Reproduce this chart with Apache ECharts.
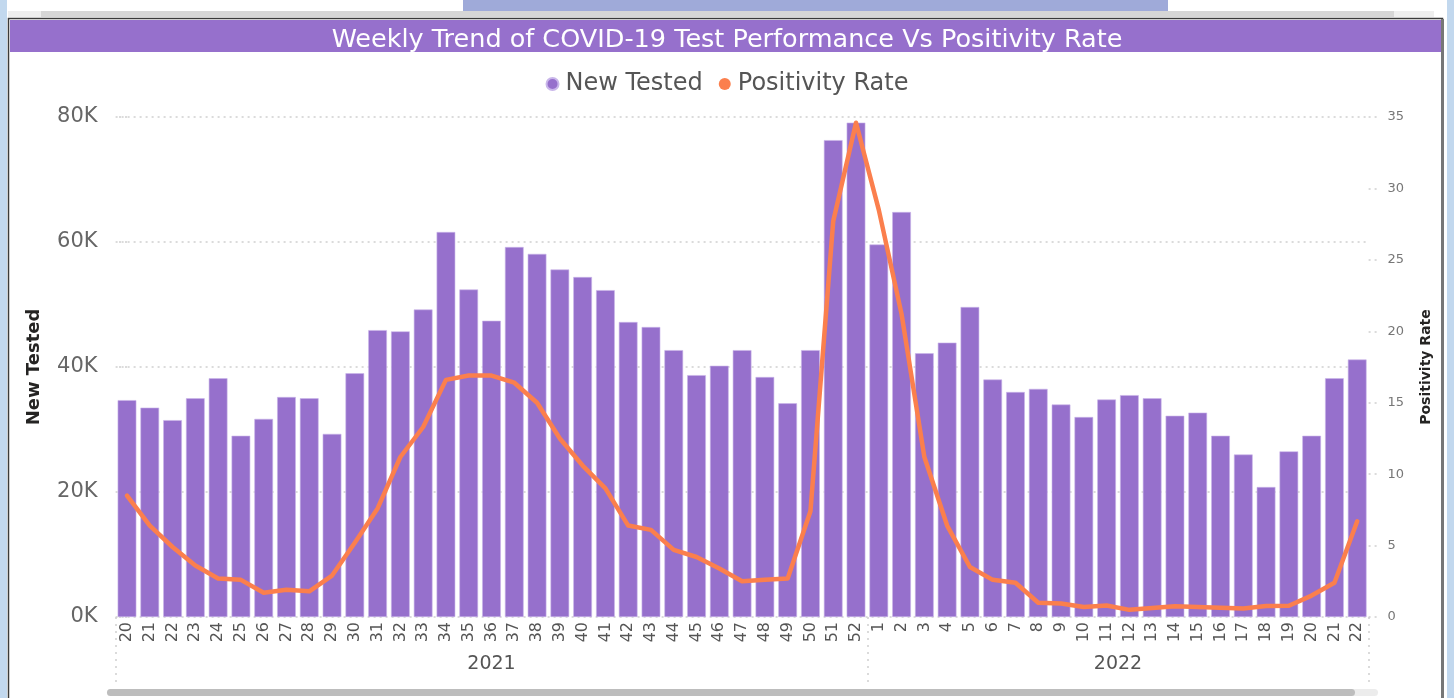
<!DOCTYPE html>
<html>
<head>
<meta charset="utf-8">
<script src="https://cdn.jsdelivr.net/npm/echarts@6/dist/echarts.min.js"></script>
<style>
html,body{margin:0;padding:0;background:#fff;}
#chart{width:1454px;height:698px;}
</style>
</head>
<body>
<div id="chart"></div>
<script>
const titleText = 'Weekly Trend of COVID-19 Test Performance Vs Positivity Rate';
const seriesNames = ['New Tested', 'Positivity Rate'];
const weeks = ['20','21','22','23','24','25','26','27','28','29','30','31','32','33','34','35','36','37','38','39','40','41','42','43','44','45','46','47','48','49','50','51','52',
               '1','2','3','4','5','6','7','8','9','10','11','12','13','14','15','16','17','18','19','20','21','22'];
const years = ['2021', '2022'];
const yearCounts = [33, 22];
const newTested = [34700,33500,31500,35000,38200,29000,31700,35200,35000,29300,39000,45900,45700,49200,61600,52400,47400,59200,58100,55600,54400,52300,47200,46400,42700,38700,40200,42700,38400,34200,42700,76300,79100,
                   59600,64800,42200,43900,49600,38000,36000,36500,34000,32000,34800,35500,35000,32200,32700,29000,26000,20800,26500,29000,38200,41200];
const positivity = [8.5,6.4,4.9,3.6,2.7,2.6,1.7,1.9,1.8,2.9,5.2,7.6,11.2,13.3,16.6,16.9,16.9,16.4,15.0,12.5,10.6,9.0,6.4,6.1,4.7,4.2,3.4,2.5,2.6,2.7,7.4,27.7,34.6,
                    28.5,21.2,11.2,6.4,3.5,2.6,2.4,1.0,0.95,0.7,0.8,0.5,0.63,0.75,0.7,0.65,0.6,0.77,0.79,1.5,2.4,6.7];
const leftTicks = {min: 0, max: 80000, interval: 20000};
const rightTicks = {min: 0, max: 35, interval: 5};

// year grouping derived from counts
const boundaries = [-0.5];
const centers = [];
let acc = 0;
yearCounts.forEach(c => { centers.push(acc + (c - 1) / 2); acc += c; boundaries.push(acc - 0.5); });

const PURPLE = '#9670cc';
const ORANGE = '#fb7f4d';
const FONT = '"DejaVu Sans", "Noto Sans", sans-serif';

const chart = echarts.init(document.getElementById('chart'), null, {renderer: 'canvas'});
chart.setOption({
  animation: false,
  backgroundColor: '#ffffff',
  textStyle: {fontFamily: FONT},
  title: {
    text: titleText, left: 'center', top: 22,
    textStyle: {color: '#ffffff', fontSize: 25.5, fontWeight: 'normal', fontFamily: FONT}
  },
  legend: {
    data: seriesNames, top: 67, left: 'center', icon: 'circle', itemWidth: 12, itemHeight: 12, itemGap: 16,
    textStyle: {color: '#555', fontSize: 24, fontFamily: FONT, padding: [0,0,0,2]}
  },
  grid: {left: 115.6, right: 85.4, top: 117, bottom: 81, containLabel: false},
  xAxis: [
    {
      type: 'category', data: weeks, position: 'bottom',
      axisLine: {show: false}, axisTick: {show: false},
      axisLabel: {rotate: 90, interval: 0, color: '#555', fontSize: 16, margin: 5, fontFamily: FONT}
    },
    {
      type: 'value', position: 'bottom', min: -0.5, max: 54.5,
      axisLine: {show: false}, splitLine: {show: false},
      axisTick: {show: true, customValues: boundaries, length: 70, lineStyle: {type: [2,5], color: '#d0d0d0', width: 1.5}},
      axisLabel: {customValues: centers, margin: 38, color: '#555', fontSize: 19, fontFamily: FONT,
        formatter: v => { const i = centers.indexOf(v); return i >= 0 ? years[i] : ''; }}
    }
  ],
  yAxis: [
    {
      type: 'value', min: leftTicks.min, max: leftTicks.max, interval: leftTicks.interval, position: 'left',
      name: seriesNames[0], nameLocation: 'middle', nameGap: 72,
      nameTextStyle: {color: '#252423', fontSize: 18, fontWeight: 'bold', fontFamily: FONT},
      axisLine: {show: false},
      axisTick: {show: true, length: 10, lineStyle: {type: [2,4], color: '#cfcfcf', width: 1.5}},
      axisLabel: {color: '#666', fontSize: 21, margin: 18, formatter: v => (v / 1000) + 'K', fontFamily: FONT},
      splitLine: {show: true, lineStyle: {type: [2,4], color: '#cfcfcf', width: 1.5}}
    },
    {
      type: 'value', min: rightTicks.min, max: rightTicks.max, interval: rightTicks.interval, position: 'right',
      name: seriesNames[1], nameLocation: 'middle', nameGap: 51,
      nameTextStyle: {color: '#252423', fontSize: 14, fontWeight: 'bold', fontFamily: FONT},
      axisLine: {show: false},
      axisTick: {show: true, length: 8, lineStyle: {type: [2,4], color: '#cfcfcf', width: 1.5}},
      axisLabel: {color: '#777', fontSize: 13, margin: 19, fontFamily: FONT},
      splitLine: {show: false}
    }
  ],
  series: [
    {
      name: seriesNames[0], type: 'bar', data: newTested, xAxisIndex: 0, yAxisIndex: 0,
      barCategoryGap: '18%', itemStyle: {color: PURPLE, borderColor: '#c9b6ea', borderWidth: 0.6}
    },
    {
      name: seriesNames[1], type: 'line', data: positivity, xAxisIndex: 0, yAxisIndex: 1,
      showSymbol: false, symbol: 'circle', lineStyle: {color: ORANGE, width: 4.5, join: 'round', cap: 'round'},
      itemStyle: {color: ORANGE}, z: 5
    }
  ],
  graphic: [
    {type: 'rect', shape: {x: 0, y: 0, width: 7, height: 698}, style: {fill: '#c2d8ee'}, silent: true},
    {type: 'rect', shape: {x: 1447, y: 0, width: 7, height: 698}, style: {fill: '#c2d8ee'}, silent: true},
    {type: 'rect', shape: {x: 463, y: 0, width: 705, height: 14}, style: {fill: '#9faad9'}, silent: true},
    {type: 'rect', shape: {x: 8, y: 11, width: 1386, height: 6}, style: {fill: '#d6d6d6'}, silent: true},
    {type: 'rect', shape: {x: 8, y: 11, width: 33, height: 6}, style: {fill: '#eeeeee'}, silent: true},
    {type: 'rect', shape: {x: 1394, y: 11, width: 40, height: 6}, style: {fill: '#eeeeee'}, silent: true},
    {type: 'rect', shape: {x: 8.5, y: 18.5, width: 1434, height: 690}, style: {fill: 'none', stroke: '#3a3a3a', lineWidth: 1.5}, silent: true},
    {type: 'rect', shape: {x: 1441, y: 19, width: 3, height: 690}, style: {fill: '#777'}, silent: true},
    {type: 'rect', shape: {x: 10, y: 20, width: 1431, height: 32}, style: {fill: '#9670cc'}, silent: true, z: -1},
    {type: 'rect', shape: {x: 107, y: 689, width: 1271, height: 7, r: 3.5}, style: {fill: '#ececec'}, silent: true},
    {type: 'rect', shape: {x: 107, y: 689, width: 1248, height: 7, r: 3.5}, style: {fill: '#bdbdbd'}, silent: true}
  ]
});
</script>
</body>
</html>
